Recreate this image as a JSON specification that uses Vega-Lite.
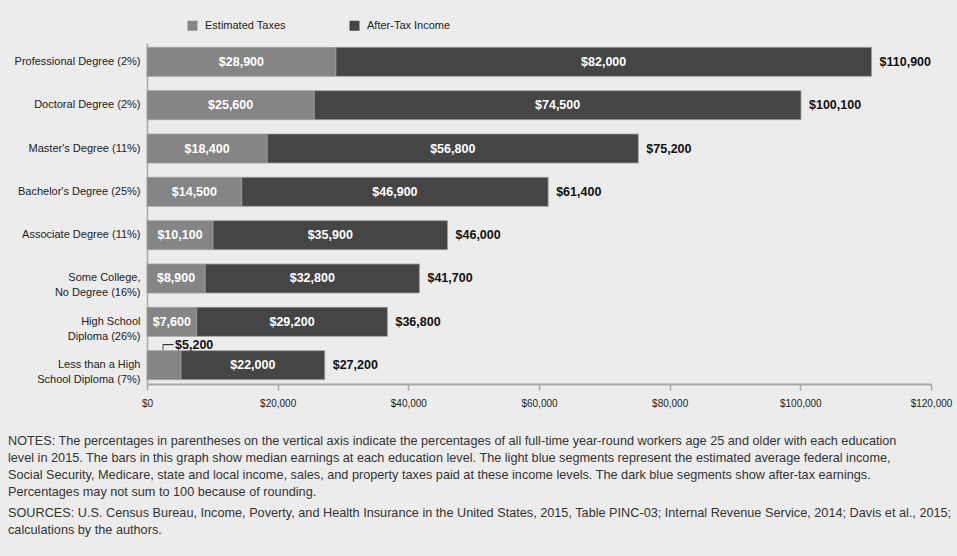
{
  "$schema": "https://vega.github.io/schema/vega-lite/v6.json",
  "width": 784,
  "height": 341,
  "padding": {"left": 8, "top": 20, "right": 25, "bottom": 28},
  "background": "#ececec",
  "title": {
    "text": [
      "NOTES: The percentages in parentheses on the vertical axis indicate the percentages of all full-time year-round workers age 25 and older with each education",
      "level in 2015. The bars in this graph show median earnings at each education level. The light blue segments represent the estimated average federal income,",
      "Social Security, Medicare, state and local income, sales, and property taxes paid at these income levels. The dark blue segments show after-tax earnings.",
      "Percentages may not sum to 100 because of rounding."
    ],
    "subtitle": [
      "SOURCES: U.S. Census Bureau, Income, Poverty, and Health Insurance in the United States, 2015, Table PINC-03; Internal Revenue Service, 2014; Davis et al., 2015;",
      "calculations by the authors."
    ],
    "orient": "bottom",
    "anchor": "start",
    "frame": "group",
    "dx": -139,
    "offset": 27,
    "font": "Liberation Sans",
    "fontSize": 12.7,
    "fontWeight": "normal",
    "color": "#333333",
    "lineHeight": 17,
    "subtitleFont": "Liberation Sans",
    "subtitleFontSize": 12.7,
    "subtitleColor": "#333333",
    "subtitleLineHeight": 17,
    "subtitlePadding": 8
  },
  "config": {
    "view": {"stroke": null},
    "font": "Liberation Sans"
  },
  "data": {
    "values": [
      {"edu": "Professional Degree (2%)", "segment": "Estimated Taxes", "value": 28900},
      {"edu": "Professional Degree (2%)", "segment": "After-Tax Income", "value": 82000},
      {"edu": "Doctoral Degree (2%)", "segment": "Estimated Taxes", "value": 25600},
      {"edu": "Doctoral Degree (2%)", "segment": "After-Tax Income", "value": 74500},
      {"edu": "Master's Degree (11%)", "segment": "Estimated Taxes", "value": 18400},
      {"edu": "Master's Degree (11%)", "segment": "After-Tax Income", "value": 56800},
      {"edu": "Bachelor's Degree (25%)", "segment": "Estimated Taxes", "value": 14500},
      {"edu": "Bachelor's Degree (25%)", "segment": "After-Tax Income", "value": 46900},
      {"edu": "Associate Degree (11%)", "segment": "Estimated Taxes", "value": 10100},
      {"edu": "Associate Degree (11%)", "segment": "After-Tax Income", "value": 35900},
      {"edu": "Some College,|No Degree (16%)", "segment": "Estimated Taxes", "value": 8900},
      {"edu": "Some College,|No Degree (16%)", "segment": "After-Tax Income", "value": 32800},
      {"edu": "High School|Diploma (26%)", "segment": "Estimated Taxes", "value": 7600},
      {"edu": "High School|Diploma (26%)", "segment": "After-Tax Income", "value": 29200},
      {"edu": "Less than a High|School Diploma (7%)", "segment": "Estimated Taxes", "value": 5200},
      {"edu": "Less than a High|School Diploma (7%)", "segment": "After-Tax Income", "value": 22000}
    ]
  },
  "transform": [
    {"stack": "value", "groupby": ["edu"], "sort": [{"field": "segment", "order": "descending"}], "as": ["x0", "x1"]}
  ],
  "encoding": {
    "y": {
      "field": "edu",
      "type": "nominal",
      "sort": null,
      "scale": {"paddingInner": 0.33, "paddingOuter": 0.1},
      "axis": {
        "title": null,
        "ticks": false,
        "domain": true,
        "domainColor": "#a8a8a8",
        "domainWidth": 1.5,
        "labelExpr": "split(datum.label, '|')",
        "labelFont": "Liberation Sans",
        "labelFontSize": 11,
        "labelColor": "#222222",
        "labelPadding": 7,
        "labelLineHeight": 15,
        "labelLimit": 200
      }
    }
  },
  "layer": [
    {
      "mark": {"type": "bar", "stroke": "#a0a0a0", "strokeWidth": 0.8},
      "encoding": {
        "x": {
          "field": "x0",
          "type": "quantitative",
          "scale": {"domain": [0, 120000], "nice": false},
          "axis": {
            "title": null,
            "values": [0, 20000, 40000, 60000, 80000, 100000, 120000],
            "format": "$,.0f",
            "grid": false,
            "domainColor": "#a8a8a8",
            "domainWidth": 2,
            "tickColor": "#a8a8a8",
            "tickWidth": 1.5,
            "tickSize": 6,
            "labelFlush": false,
            "labelFont": "Liberation Sans",
            "labelFontSize": 10,
            "labelColor": "#222222",
            "labelPadding": 8
          }
        },
        "x2": {"field": "x1"},
        "color": {
          "field": "segment",
          "type": "nominal",
          "scale": {"domain": ["Estimated Taxes", "After-Tax Income"], "range": ["#858585", "#454545"]},
          "legend": {
            "title": null,
            "orient": "none",
            "legendX": 40,
            "legendY": -23,
            "direction": "horizontal",
            "symbolType": "square",
            "symbolSize": 100,
            "symbolStrokeWidth": 0,
            "labelFont": "Liberation Sans",
            "labelFontSize": 11,
            "labelColor": "#222222",
            "labelOffset": 7,
            "columnPadding": 63,
            "padding": 0
          }
        }
      }
    },
    {
      "transform": [
        {"filter": "datum.value >= 6000"},
        {"fold": ["x0", "x1"], "as": ["edge", "pos"]}
      ],
      "mark": {"type": "text", "color": "white", "fontWeight": "bold", "fontSize": 12.5, "font": "Liberation Sans"},
      "encoding": {
        "x": {"aggregate": "mean", "field": "pos", "type": "quantitative"},
        "detail": {"field": "segment"},
        "text": {"aggregate": "max", "field": "value", "type": "quantitative", "format": "$,.0f"}
      }
    },
    {
      "transform": [{"filter": "datum.segment == 'After-Tax Income'"}],
      "mark": {"type": "text", "color": "#111111", "fontWeight": "bold", "fontSize": 12.5, "font": "Liberation Sans", "align": "left", "dx": 8},
      "encoding": {
        "x": {"field": "x1", "type": "quantitative"},
        "text": {"field": "x1", "type": "quantitative", "format": "$,.0f"}
      }
    },
    {
      "transform": [{"filter": "datum.value < 6000"}],
      "mark": {"type": "text", "color": "#111111", "fontWeight": "bold", "fontSize": 12.5, "font": "Liberation Sans", "align": "left", "yOffset": -20},
      "encoding": {
        "x": {"datum": 4300, "type": "quantitative"},
        "text": {"field": "value", "type": "quantitative", "format": "$,.0f"}
      }
    },
    {
      "transform": [{"filter": "datum.value < 6000"}],
      "mark": {"type": "rule", "color": "#111111", "strokeWidth": 1, "yOffset": -20.5},
      "encoding": {
        "x": {"datum": 2450, "type": "quantitative"},
        "x2": {"datum": 4050}
      }
    },
    {
      "transform": [{"filter": "datum.value < 6000"}],
      "mark": {"type": "tick", "color": "#111111", "thickness": 1, "size": 5.5, "orient": "vertical", "yOffset": -18},
      "encoding": {
        "x": {"datum": 2450, "type": "quantitative"}
      }
    }
  ]
}
